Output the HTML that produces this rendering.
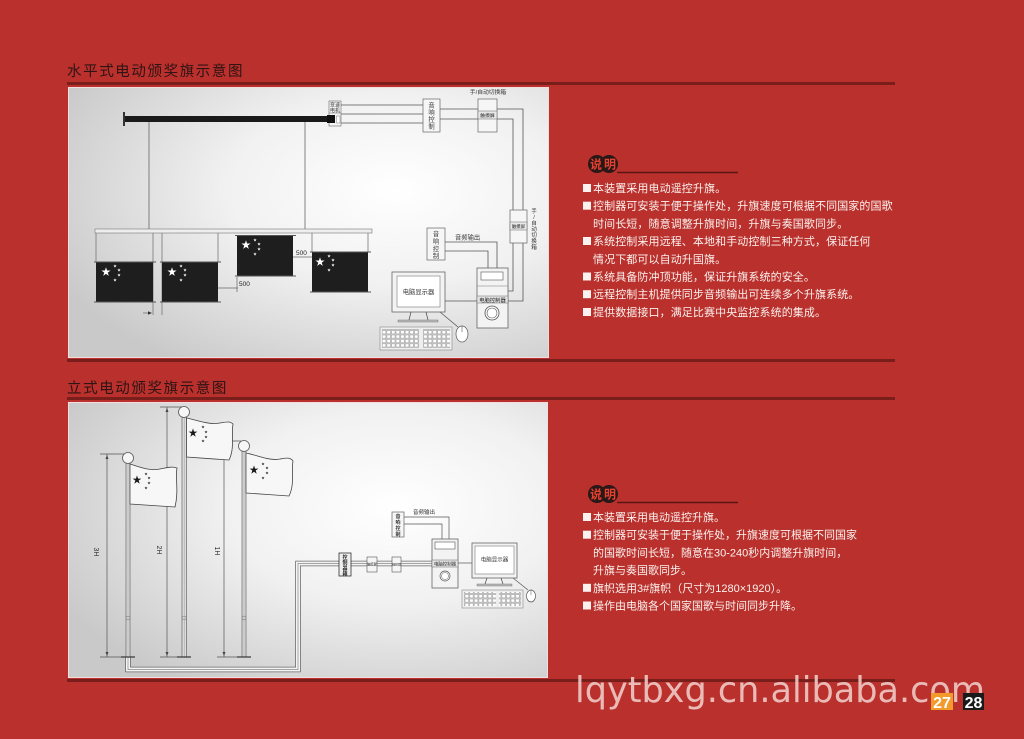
<!DOCTYPE html>
<html><head><meta charset="utf-8">
<style>
html,body{margin:0;padding:0;background:#b9302c;width:1024px;height:739px;overflow:hidden;}
svg{display:block;}
text{font-family:"Liberation Sans","Noto Sans CJK SC",sans-serif;}
</style></head><body>
<svg width="1024" height="739" viewBox="0 0 1024 739" xmlns="http://www.w3.org/2000/svg">
<defs>
<radialGradient id="pg" cx="0.68" cy="0.38" r="0.78">
<stop offset="0" stop-color="#ffffff"/>
<stop offset="0.45" stop-color="#f1f1f1"/>
<stop offset="1" stop-color="#c9c9c9"/>
</radialGradient>
<path id="st" d="M0,-1 L0.2245,-0.309 L0.951,-0.309 L0.363,0.118 L0.588,0.809 L0,0.382 L-0.588,0.809 L-0.363,0.118 L-0.951,-0.309 L-0.2245,-0.309 Z"/>
<pattern id="kp" x="0" y="0" width="4.6" height="4.4" patternUnits="userSpaceOnUse">
<rect x="0.4" y="0.5" width="3.7" height="3.4" fill="#fff" stroke="#888" stroke-width="0.5"/>
</pattern>
</defs>
<rect width="1024" height="739" fill="#b9302c"/>

<!-- titles and rules -->
<text x="67" y="76" font-size="14.5" letter-spacing="1.6" fill="#2e1414">水平式电动颁奖旗示意图</text>
<rect x="67" y="82" width="828" height="3" fill="#7a1e1c"/>
<rect x="67" y="359" width="828" height="3" fill="#7a1e1c"/>
<text x="67" y="393" font-size="14.5" letter-spacing="1.6" fill="#2e1414">立式电动颁奖旗示意图</text>
<rect x="67" y="397" width="828" height="3" fill="#7a1e1c"/>
<rect x="67" y="679" width="828" height="3" fill="#7a1e1c"/>

<!-- panels -->
<rect x="68.5" y="87.5" width="480" height="270" fill="url(#pg)" stroke="#f3dede" stroke-width="1"/>
<rect x="68.5" y="402.5" width="479" height="275" fill="url(#pg)" stroke="#f3dede" stroke-width="1"/>

<!-- ===== TOP DIAGRAM ===== -->
<g stroke="#666" stroke-width="0.8" fill="none">
<line x1="149" y1="122" x2="149" y2="229"/>
<line x1="305" y1="122" x2="305" y2="229"/>
</g>
<rect x="125" y="116" width="206" height="6" fill="#1a1a1a"/>
<rect x="123" y="112" width="2" height="14" fill="#333"/>
<rect x="329" y="101" width="12" height="25" fill="#f4f4f4" stroke="#666" stroke-width="0.6"/>
<line x1="329" y1="113" x2="341" y2="113" stroke="#666" stroke-width="0.5"/>
<rect x="327" y="115" width="8" height="8" fill="#111"/>
<rect x="336.5" y="116" width="3.5" height="7" fill="#fff" stroke="#666" stroke-width="0.4"/>
<text x="335" y="106.5" font-size="5" text-anchor="middle" fill="#333">变速</text>
<text x="335" y="112" font-size="5" text-anchor="middle" fill="#333">电机</text>
<g stroke="#555" stroke-width="0.8" fill="none">
<line x1="341" y1="105" x2="423" y2="105"/>
<line x1="341" y1="114" x2="423" y2="114"/>
<line x1="341" y1="123" x2="423" y2="123"/>
<line x1="440" y1="109" x2="478" y2="109"/>
<line x1="440" y1="119" x2="478" y2="119"/>
<path d="M497,109 L523,109 L523,301 L508,301"/>
<path d="M497,119 L513,119 L513,291 L508,291"/>
<path d="M445,242 L497,242 L497,268"/>
<path d="M445,251 L488,251 L488,268"/>
<line x1="445" y1="301" x2="477" y2="301"/>
<line x1="440" y1="312" x2="458" y2="327"/>
</g>
<rect x="423" y="99" width="17" height="33" fill="#f6f6f6" stroke="#666" stroke-width="0.7"/>
<g font-size="6.3" fill="#333" text-anchor="middle">
<text x="431.5" y="107.5">音</text><text x="431.5" y="114.5">响</text><text x="431.5" y="121.5">控</text><text x="431.5" y="128.5">制</text>
</g>
<rect x="478" y="99" width="19" height="33" fill="#f6f6f6" stroke="#666" stroke-width="0.7"/>
<rect x="478" y="111" width="19" height="8" fill="#e8e8e8" stroke="#666" stroke-width="0.5"/>
<text x="487.5" y="117" font-size="4.8" text-anchor="middle" fill="#222">触摸屏</text>
<text x="488" y="94" font-size="5.8" text-anchor="middle" fill="#333">手/自动切换箱</text>
<rect x="510" y="210" width="17" height="33" fill="#f6f6f6" stroke="#666" stroke-width="0.7"/>
<rect x="510" y="222" width="17" height="8" fill="#e8e8e8" stroke="#666" stroke-width="0.5"/>
<text x="518.5" y="228" font-size="4.4" text-anchor="middle" fill="#222">触摸屏</text>
<g font-size="5.6" fill="#333" text-anchor="middle">
<text x="534" y="213">手</text><text x="534" y="219">/</text><text x="534" y="225">自</text><text x="534" y="231">动</text><text x="534" y="237">切</text><text x="534" y="243">换</text><text x="534" y="249">箱</text>
</g>
<rect x="427" y="228" width="18" height="32" fill="#f6f6f6" stroke="#666" stroke-width="0.7"/>
<g font-size="6.3" fill="#333" text-anchor="middle">
<text x="436" y="236">音</text><text x="436" y="243.5">响</text><text x="436" y="251">控</text><text x="436" y="258">制</text>
</g>
<text x="455" y="239.5" font-size="6.3" fill="#333">音频输出</text>
<!-- controller -->
<rect x="477" y="268" width="31" height="60" fill="#f3f3f3" stroke="#666" stroke-width="0.8"/>
<rect x="481" y="272" width="22" height="8" fill="#fff" stroke="#555" stroke-width="0.6"/>
<line x1="477" y1="286" x2="508" y2="286" stroke="#777" stroke-width="0.5"/>
<rect x="477" y="296" width="31" height="7" fill="#e4e4e4" stroke="#666" stroke-width="0.5"/>
<text x="492.5" y="301.8" font-size="5.3" text-anchor="middle" fill="#222">电脑控制器</text>
<circle cx="492" cy="313" r="7" fill="#fff" stroke="#555" stroke-width="0.8"/>
<circle cx="492" cy="313" r="5" fill="#fff" stroke="#555" stroke-width="0.6"/>
<!-- monitor -->
<rect x="392" y="272" width="53" height="40" fill="#f3f3f3" stroke="#666" stroke-width="0.8"/>
<rect x="397" y="276" width="43" height="31" fill="#fff" stroke="#777" stroke-width="0.6"/>
<text x="418.5" y="294" font-size="6.3" text-anchor="middle" fill="#333">电脑显示器</text>
<g stroke="#555" stroke-width="0.8"><line x1="411" y1="312" x2="409" y2="320"/><line x1="426" y1="312" x2="428" y2="320"/></g>
<rect x="398" y="320" width="40" height="2" fill="#bbb" stroke="#666" stroke-width="0.4"/>
<rect x="380" y="327" width="72" height="23" fill="#eee" stroke="#888" stroke-width="0.6"/>
<rect x="382" y="329" width="37" height="19" fill="url(#kp)"/>
<rect x="423" y="329" width="27" height="19" fill="url(#kp)"/>
<ellipse cx="462" cy="334" rx="6" ry="8" fill="#fff" stroke="#555" stroke-width="0.7"/>
<line x1="462" y1="326" x2="462" y2="332" stroke="#555" stroke-width="0.6"/>

<!-- flag rail -->
<rect x="95" y="229" width="277" height="4" fill="#eee" stroke="#777" stroke-width="0.6"/>
<g stroke="#777" stroke-width="0.8">
<line x1="96" y1="233" x2="96" y2="262"/>
<line x1="153" y1="233" x2="153" y2="315"/>
<line x1="162" y1="233" x2="162" y2="315"/>
<line x1="218" y1="233" x2="218" y2="262"/>
<line x1="312" y1="233" x2="312" y2="252"/>
<line x1="368" y1="233" x2="368" y2="252"/>
</g>
<!-- flags -->
<g fill="#1e1e1e">
<rect x="96" y="262" width="57" height="40"/>
<rect x="162" y="262" width="56" height="40"/>
<rect x="237" y="236" width="56" height="40"/>
<rect x="312" y="252" width="56" height="40"/>
</g>
<g stroke="#555" stroke-width="1.1">
<line x1="94" y1="262" x2="156" y2="262"/><line x1="94" y1="302" x2="156" y2="302"/>
<line x1="160" y1="262" x2="221" y2="262"/><line x1="160" y1="302" x2="221" y2="302"/>
<line x1="235" y1="235.5" x2="296" y2="235.5"/><line x1="235" y1="276" x2="296" y2="276"/>
<line x1="310" y1="252" x2="371" y2="252"/><line x1="310" y1="292" x2="371" y2="292"/>
</g>
<g fill="#fff">
<use href="#st" transform="translate(106,272) scale(4.8)"/>
<use href="#st" transform="translate(115,266) scale(1.8)"/><use href="#st" transform="translate(119,270) scale(1.8)"/><use href="#st" transform="translate(119,275) scale(1.8)"/><use href="#st" transform="translate(115,280) scale(1.8)"/>
<use href="#st" transform="translate(172,272) scale(4.8)"/>
<use href="#st" transform="translate(181,266) scale(1.8)"/><use href="#st" transform="translate(185,270) scale(1.8)"/><use href="#st" transform="translate(185,275) scale(1.8)"/><use href="#st" transform="translate(181,280) scale(1.8)"/>
<use href="#st" transform="translate(246,245) scale(4.8)"/>
<use href="#st" transform="translate(255,240) scale(1.8)"/><use href="#st" transform="translate(259,244) scale(1.8)"/><use href="#st" transform="translate(259,249) scale(1.8)"/><use href="#st" transform="translate(255,254) scale(1.8)"/>
<use href="#st" transform="translate(320,262) scale(4.8)"/>
<use href="#st" transform="translate(329,256) scale(1.8)"/><use href="#st" transform="translate(333,260) scale(1.8)"/><use href="#st" transform="translate(333,265) scale(1.8)"/><use href="#st" transform="translate(329,270) scale(1.8)"/>
</g>
<g stroke="#666" stroke-width="0.7">
<line x1="218" y1="288" x2="238" y2="288"/>
<line x1="237" y1="277" x2="237" y2="292"/>
<line x1="293" y1="257" x2="312" y2="257"/>
<line x1="143" y1="313" x2="151" y2="313"/>
</g>
<path d="M152,313 L148,311.3 L148,314.7 Z" fill="#333"/>
<text x="239" y="286" font-size="6.5" fill="#222">500</text>
<text x="296" y="255" font-size="6.5" fill="#222">500</text>

<!-- ===== BOTTOM DIAGRAM ===== -->
<!-- dimension lines -->
<g stroke="#555" stroke-width="0.7">
<line x1="107" y1="454" x2="107" y2="657"/><line x1="100" y1="454" x2="124" y2="454"/><line x1="100" y1="657" x2="122" y2="657"/>
<line x1="167" y1="407" x2="167" y2="657"/><line x1="160" y1="407" x2="182" y2="407"/><line x1="160" y1="657" x2="180" y2="657"/>
<line x1="224" y1="441" x2="224" y2="657"/><line x1="217" y1="441" x2="241" y2="441"/><line x1="217" y1="657" x2="238" y2="657"/>
</g>
<g fill="#444">
<path d="M107,455 L105.5,459 L108.5,459 Z"/><path d="M107,656 L105.5,652 L108.5,652 Z"/>
<path d="M167,408 L165.5,412 L168.5,412 Z"/><path d="M167,656 L165.5,652 L168.5,652 Z"/>
<path d="M224,442 L222.5,446 L225.5,446 Z"/><path d="M224,656 L222.5,652 L225.5,652 Z"/>
</g>
<g font-size="7" fill="#333" text-anchor="middle">
<text transform="translate(94,552) rotate(90)">3H</text>
<text transform="translate(157,550) rotate(90)">2H</text>
<text transform="translate(215,551) rotate(90)">1H</text>
</g>
<!-- cable -->
<g fill="none" stroke-linejoin="miter">
<path d="M128,657 L128,669.5 L298,669.5 L298,563.5 L339,563.5 M351,563.5 L367,563.5 M377,563.5 L392,563.5 M401,563.5 L432,563.5" stroke="#666" stroke-width="5.5"/>
<path d="M128,657 L128,669.5 L298,669.5 L298,563.5 L339,563.5 M351,563.5 L367,563.5 M377,563.5 L392,563.5 M401,563.5 L432,563.5" stroke="#f4f4f4" stroke-width="4"/>
<path d="M128,657 L128,669.5 L298,669.5 L298,563.5 L339,563.5 M351,563.5 L367,563.5 M377,563.5 L392,563.5 M401,563.5 L432,563.5" stroke="#888" stroke-width="0.7"/>
</g>
<!-- poles -->
<g fill="#dcdcdc" stroke="#666" stroke-width="0.7">
<rect x="126" y="463" width="4" height="194"/>
<rect x="182" y="417" width="4.5" height="240"/>
<rect x="242" y="451" width="4" height="206"/>
</g>
<g stroke="#888" stroke-width="0.4">
<line x1="128" y1="463" x2="128" y2="657"/><line x1="184.2" y1="417" x2="184.2" y2="657"/><line x1="244" y1="451" x2="244" y2="657"/>
</g>
<g fill="none" stroke="#777" stroke-width="0.5">
<circle cx="128" cy="618" r="2"/><circle cx="184.2" cy="618" r="2"/><circle cx="244" cy="618" r="2"/>
</g>
<g stroke="#333" stroke-width="1.2">
<line x1="121" y1="657" x2="135" y2="657"/><line x1="177" y1="657" x2="191" y2="657"/><line x1="237" y1="657" x2="251" y2="657"/>
</g>
<g fill="#f6f6f6" stroke="#555" stroke-width="0.8">
<circle cx="128" cy="458" r="5.5"/><circle cx="184" cy="412" r="5.5"/><circle cx="244" cy="446" r="5.5"/>
</g>
<!-- waving flags -->
<g fill="#f7f7f7" stroke="#444" stroke-width="0.8">
<path d="M130,464 C142,468 150,471 160,469 C166,468 172,466 177,468 C175,478 179,490 175,507 C160,506 145,505 130,504 Z"/>
<path d="M186.5,418 C200,421 210,425 220,423 C226,422 230,421 233,424 C231,435 235,448 229,460 C215,459 200,458 186.5,457 Z"/>
<path d="M246,453 C260,456 270,461 280,459 C286,458 290,457 293,461 C291,472 295,484 289,496 C275,495 260,494 246,493 Z"/>
</g>
<g fill="#1a1a1a">
<use href="#st" transform="translate(137,480) scale(4.6)"/>
<use href="#st" transform="translate(146,474) scale(1.6)"/><use href="#st" transform="translate(149,478) scale(1.6)"/><use href="#st" transform="translate(149,483) scale(1.6)"/><use href="#st" transform="translate(146,488) scale(1.6)"/>
<use href="#st" transform="translate(193,433) scale(4.6)"/>
<use href="#st" transform="translate(203,427) scale(1.6)"/><use href="#st" transform="translate(206,432) scale(1.6)"/><use href="#st" transform="translate(206,437) scale(1.6)"/><use href="#st" transform="translate(203,441) scale(1.6)"/>
<use href="#st" transform="translate(254,470) scale(4.6)"/>
<use href="#st" transform="translate(263,464) scale(1.6)"/><use href="#st" transform="translate(267,468) scale(1.6)"/><use href="#st" transform="translate(267,473) scale(1.6)"/><use href="#st" transform="translate(263,478) scale(1.6)"/>
</g>
<!-- control box -->
<rect x="339" y="553" width="12" height="23" fill="#eee" stroke="#333" stroke-width="0.8"/>
<g font-size="5" font-weight="bold" fill="#222" text-anchor="middle">
<text x="345" y="559">控</text><text x="345" y="564.5">制</text><text x="345" y="570">器</text><text x="345" y="575.5">箱</text>
</g>
<rect x="367" y="557" width="10" height="15" fill="#f5f5f5" stroke="#555" stroke-width="0.6"/>
<rect x="392" y="557" width="9" height="15" fill="#f5f5f5" stroke="#555" stroke-width="0.6"/>
<text x="372" y="565.5" font-size="3.2" text-anchor="middle" fill="#222">触摸屏</text>
<text x="396.5" y="565.5" font-size="3" text-anchor="middle" fill="#222">触摸屏</text>
<!-- audio -->
<g fill="none" stroke="#555" stroke-width="0.7">
<path d="M404,517 L449,517 L449,539"/>
<path d="M404,524 L442,524 L442,539"/>
<line x1="458" y1="563" x2="472" y2="563"/>
<line x1="513" y1="578" x2="528" y2="590"/>
</g>
<rect x="392" y="512" width="12" height="25" fill="#f6f6f6" stroke="#666" stroke-width="0.7"/>
<g font-size="5" font-weight="bold" fill="#333" text-anchor="middle">
<text x="398" y="518">音</text><text x="398" y="524">响</text><text x="398" y="530">控</text><text x="398" y="536">制</text>
</g>
<text x="413" y="514" font-size="5.5" fill="#333">音频输出</text>
<!-- controller -->
<rect x="432" y="539" width="26" height="49" fill="#f3f3f3" stroke="#666" stroke-width="0.8"/>
<rect x="435" y="542" width="20" height="7" fill="#fff" stroke="#555" stroke-width="0.6"/>
<rect x="432" y="560" width="26" height="7" fill="#e4e4e4" stroke="#666" stroke-width="0.5"/>
<text x="445" y="565.5" font-size="4.4" text-anchor="middle" fill="#222">电脑控制器</text>
<circle cx="445" cy="576" r="5" fill="#fff" stroke="#555" stroke-width="0.7"/>
<circle cx="445" cy="576" r="3.5" fill="#fff" stroke="#555" stroke-width="0.5"/>
<!-- monitor -->
<rect x="472" y="543" width="45" height="35" fill="#f3f3f3" stroke="#666" stroke-width="0.8"/>
<rect x="475" y="546" width="39" height="28" fill="#fff" stroke="#777" stroke-width="0.6"/>
<text x="494.5" y="561.5" font-size="5.5" text-anchor="middle" fill="#333">电脑显示器</text>
<g stroke="#555" stroke-width="0.8"><line x1="487" y1="578" x2="485" y2="584"/><line x1="501" y1="578" x2="503" y2="584"/></g>
<rect x="477" y="584" width="35" height="2" fill="#bbb" stroke="#666" stroke-width="0.4"/>
<rect x="462" y="590" width="61" height="18" fill="#eee" stroke="#888" stroke-width="0.6"/>
<rect x="464" y="592" width="32" height="14" fill="url(#kp)"/>
<rect x="499" y="592" width="22" height="14" fill="url(#kp)"/>
<ellipse cx="531" cy="596" rx="4.5" ry="6" fill="#fff" stroke="#555" stroke-width="0.7"/>
<line x1="531" y1="590" x2="531" y2="595" stroke="#555" stroke-width="0.5"/>

<!-- ===== RIGHT TEXT TOP ===== -->
<circle cx="597" cy="164" r="9" fill="#2a1818"/>
<circle cx="609" cy="164" r="9" fill="#2a1818"/>
<line x1="617" y1="172.5" x2="738" y2="172.5" stroke="#5a1614" stroke-width="1.5"/>
<text x="590" y="168.5" font-size="12" font-weight="bold" letter-spacing="2" fill="#e5412f">说明</text>
<g fill="#fbf1ee">
<rect x="583" y="184" width="8" height="8"/>
<rect x="583" y="201.7" width="8" height="8"/>
<rect x="583" y="237" width="8" height="8"/>
<rect x="583" y="272.5" width="8" height="8"/>
<rect x="583" y="290.2" width="8" height="8"/>
<rect x="583" y="308" width="8" height="8"/>
</g>
<g font-size="11" letter-spacing="0.1" fill="#fbf1ee">
<text x="593" y="192">本装置采用电动遥控升旗。</text>
<text x="593" y="209.7">控制器可安装于便于操作处，升旗速度可根据不同国家的国歌</text>
<text x="593" y="227.4">时间长短，随意调整升旗时间，升旗与奏国歌同步。</text>
<text x="593" y="245">系统控制采用远程、本地和手动控制三种方式，保证任何</text>
<text x="593" y="262.8">情况下都可以自动升国旗。</text>
<text x="593" y="280.5">系统具备防冲顶功能，保证升旗系统的安全。</text>
<text x="593" y="298.2">远程控制主机提供同步音频输出可连续多个升旗系统。</text>
<text x="593" y="316">提供数据接口，满足比赛中央监控系统的集成。</text>
</g>

<!-- ===== RIGHT TEXT BOTTOM ===== -->
<circle cx="597" cy="494" r="9" fill="#2a1818"/>
<circle cx="609" cy="494" r="9" fill="#2a1818"/>
<line x1="617" y1="502.5" x2="738" y2="502.5" stroke="#5a1614" stroke-width="1.5"/>
<text x="590" y="498.5" font-size="12" font-weight="bold" letter-spacing="2" fill="#e5412f">说明</text>
<g fill="#fbf1ee">
<rect x="583" y="513" width="8" height="8"/>
<rect x="583" y="530.7" width="8" height="8"/>
<rect x="583" y="583.8" width="8" height="8"/>
<rect x="583" y="601.5" width="8" height="8"/>
</g>
<g font-size="11" letter-spacing="0" fill="#fbf1ee">
<text x="593" y="521">本装置采用电动遥控升旗。</text>
<text x="593" y="538.7">控制器可安装于便于操作处，升旗速度可根据不同国家</text>
<text x="593" y="556.4">的国歌时间长短，随意在30-240秒内调整升旗时间，</text>
<text x="593" y="574">升旗与奏国歌同步。</text>
<text x="593" y="591.8">旗帜选用3#旗帜（尺寸为1280×1920）。</text>
<text x="593" y="609.5">操作由电脑各个国家国歌与时间同步升降。</text>
</g>

<!-- ===== FOOTER ===== -->
<text x="575" y="702" font-size="36" textLength="410" lengthAdjust="spacingAndGlyphs" fill="#f2d2d0" fill-opacity="0.85" style="font-family:'DejaVu Sans','Liberation Sans',sans-serif">lqytbxg.cn.alibaba.com</text>
<rect x="931" y="693" width="22" height="17" fill="#f39a2c"/>
<text x="942" y="708" font-size="16" font-weight="bold" text-anchor="middle" fill="#fff">27</text>
<rect x="963" y="693" width="21" height="17" fill="#1a1a1a"/>
<text x="973.5" y="708" font-size="16" font-weight="bold" text-anchor="middle" fill="#fff">28</text>
</svg>
</body></html>
